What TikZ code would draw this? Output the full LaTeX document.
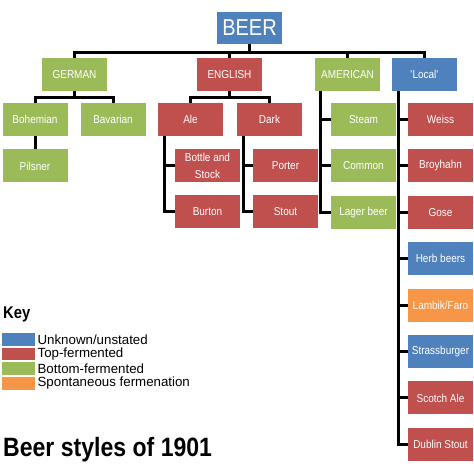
\documentclass[tikz,border=0pt]{standalone}
\usepackage{fontspec}
\setmainfont{Liberation Sans}[FakeStretch=0.87]
\newfontfamily\keyfont{Liberation Sans}
\usetikzlibrary{positioning}

\definecolor{unkblue}{HTML}{4F81BD}
\definecolor{topred}{HTML}{C0504D}
\definecolor{botgreen}{HTML}{9BBB59}
\definecolor{sponorange}{HTML}{F79646}

\tikzset{
  beerbox/.style={minimum width=65pt, minimum height=33pt, inner sep=1pt,
    text=white, align=center, font=\fontsize{11.5}{17}\selectfont},
  unk/.style={beerbox, fill=unkblue},
  topf/.style={beerbox, fill=topred},
  botf/.style={beerbox, fill=botgreen},
  spon/.style={beerbox, fill=sponorange},
  branch/.style={line width=3pt, line join=miter},
  swatch/.style={minimum width=33pt, minimum height=12.5pt, inner sep=0, anchor=north west}
}

\begin{document}
\begin{tikzpicture}[x=1pt, y=-1pt]
 \def\yhead{28}
 \def\ycat{74.5}
 \def\yone{119.5}
 \def\dy{46}
 \def\gap{13pt}

 \useasboundingbox (0,0) rectangle (474,471);

 %Root and categories
 \node[unk, minimum height=32pt, font=\fontsize{23}{23}\selectfont] (beer) at (249.5,\yhead) {BEER};
 \node[botf] (german) at (74.5,\ycat) {GERMAN};
 \node[topf] (english) at (229.5,\ycat) {ENGLISH};
 \node[botf] (american) at (347.5,\ycat) {AMERICAN};
 \node[unk] (local) at (424.5,\ycat) {\textquotesingle Local\textquotesingle};

 %German
 \node[botf] (bohemian) at (35,\yone) {Bohemian};
 \node[botf] (bavarian) at (113,\yone) {Bavarian};
 \node[botf, below=\gap of bohemian] (pilsner) {Pilsner};

 %English
 \node[topf] (ale) at (190.5,\yone) {Ale};
 \node[topf] (dark) at (269.5,\yone) {Dark};
 \node[topf] (bottle) at (207.5,{\yone+\dy}) {Bottle and\\Stock};
 \node[topf, below=\gap of bottle] (burton) {Burton};
 \node[topf] (porter) at (285.5,{\yone+\dy}) {Porter};
 \node[topf, below=\gap of porter] (stout) {Stout};

 %American
 \node[botf] (steam) at (363.5,\yone) {Steam};
 \node[botf, below=\gap of steam] (common) {Common};
 \node[botf, below=\gap of common] (lager) {Lager beer};

 %Local
 \node[topf] (weiss) at (440.5,\yone) {Weiss};
 \node[topf, below=\gap of weiss] (broyhahn) {Broyhahn};
 \node[topf, below=\gap of broyhahn] (gose) {Gose};
 \node[unk, below=\gap of gose] (herb) {Herb beers};
 \node[spon, below=\gap of herb] (lambik) {Lambik/Faro};
 \node[unk, below=\gap of lambik] (strass) {Strassburger};
 \node[topf, below=\gap of strass] (scotch) {Scotch Ale};
 \node[topf, below=\gap of scotch] (dublin) {Dublin Stout};

 %Top level connectors
 \coordinate (bus) at (249.5,52);
 \draw[branch] (beer) -- (bus);
 \draw[branch] (german.north) |- (bus) -| (local.north);
 \draw[branch] (english.north) -- (english.north |- bus);
 \draw[branch] (american.north) -- (american.north |- bus);

 %Forks under German and English
 \draw[branch] (german.south) -- ++(0,6) coordinate (gjoin);
 \draw[branch] (bohemian.north) |- (gjoin) -| (bavarian.north);
 \draw[branch] (bohemian) -- (pilsner);
 \draw[branch] (english.south) -- ++(0,6) coordinate (ejoin);
 \draw[branch] (ale.north) |- (ejoin) -| (dark.north);

 %Trunks
 \coordinate (atrunk) at ([xshift=7pt]ale.south west);
 \coordinate (dtrunk) at ([xshift=7pt]dark.south west);
 \coordinate (mtrunk) at ([xshift=6pt]american.south west);
 \coordinate (ltrunk) at ([xshift=7pt]local.south west);

 \draw[branch] (atrunk) |- (burton.west);
 \draw[branch] (atrunk |- bottle.west) -- (bottle.west);
 \draw[branch] (dtrunk) |- (stout.west);
 \draw[branch] (dtrunk |- porter.west) -- (porter.west);
 \draw[branch] (mtrunk) |- (lager.west);
 \foreach \n in {steam,common}
  \draw[branch] (mtrunk |- \n.west) -- (\n.west);
 \draw[branch] (ltrunk) |- (dublin.west);
 \foreach \n in {weiss,broyhahn,gose,herb,lambik,strass,scotch}
  \draw[branch] (ltrunk |- \n.west) -- (\n.west);

 %Key
 \node[anchor=base west, inner sep=0, font=\bfseries\fontsize{17}{17}\selectfont] (key) at (3,318) {Key};
 \foreach \col/\txt [count=\i from 0] in {unkblue/{Unknown/unstated}, topred/Top-fermented,
   botgreen/Bottom-fermented, sponorange/Spontaneous fermenation}
 {
  \node[swatch, fill=\col] (sw\i) at (2,{333+14.6*\i}) {};
  \node[right=2pt of sw\i, inner sep=0, font=\keyfont\fontsize{13.3}{13.3}\selectfont] (kt\i) {\txt};
 }

 \node[anchor=base west, inner sep=0, font=\bfseries\fontsize{26.5}{26.5}\selectfont] (title) at (3,456) {Beer styles of 1901};
\end{tikzpicture}
\end{document}
